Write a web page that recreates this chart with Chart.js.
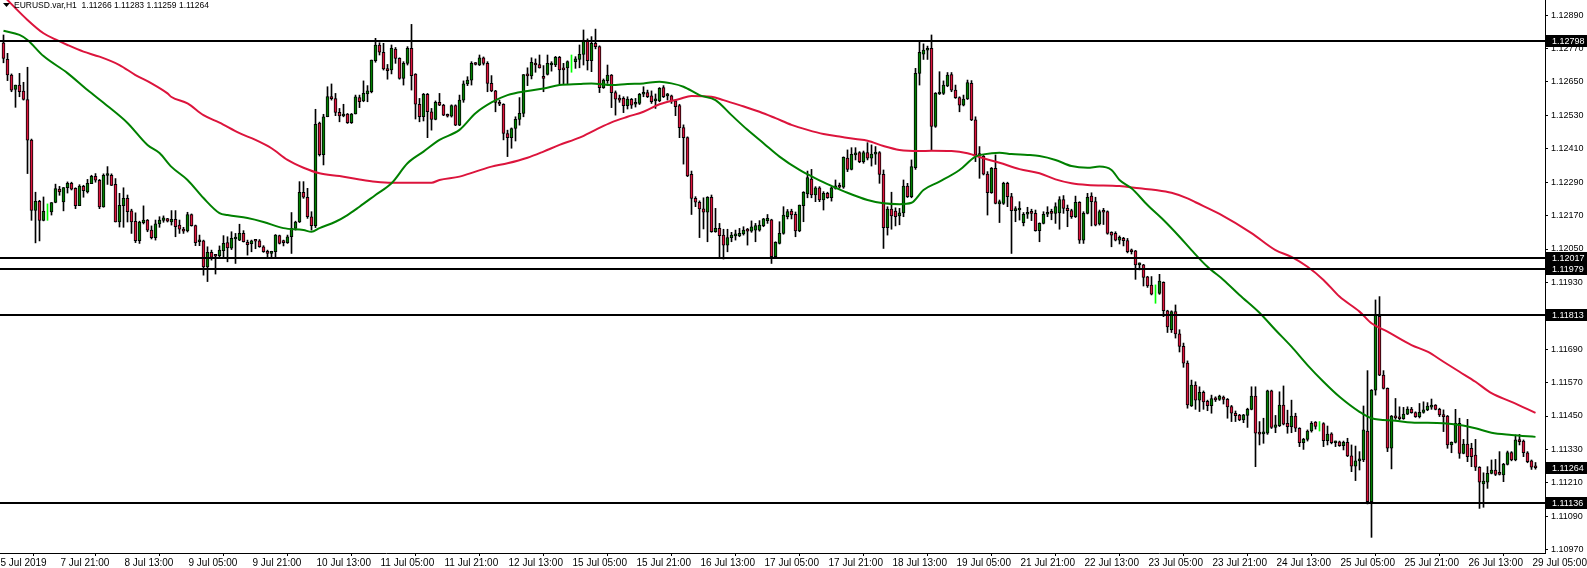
<!DOCTYPE html>
<html>
<head>
<meta charset="utf-8">
<script src="https://cdn.jsdelivr.net/npm/chart.js@4.4.0/dist/chart.umd.min.js"></script>
<style>
html, body { margin: 0; padding: 0; background: #fff; overflow: hidden; }
#wrap { position: relative; width: 1587px; height: 568px; }
</style>
</head>
<body>
<div id="wrap"><canvas id="chart" width="1587" height="568"></canvas></div>
<script>
// Header
const symbolTitle = 'EURUSD.var,H1  1.11266 1.11283 1.11259 1.11264';

// H1 candles, one per bar: [open, high, low, close]
const ohlc = [
  [1.12791,1.12819,1.12719,1.12735],[1.12731,1.12753,1.12655,1.12675],[1.12675,1.12679,1.12615,1.12621],[1.12623,1.12639,1.12559,1.12639],
  [1.12639,1.12681,1.12597,1.12615],[1.12617,1.12649,1.12585,1.12587],[1.12587,1.12703,1.12321,1.12441],[1.12441,1.12445,1.12153,1.12189],
  [1.12189,1.12254,1.12072,1.12221],[1.12221,1.12225,1.12079,1.12153],[1.12153,1.12237,1.12151,1.12185],[1.12183,1.12212,1.12153,1.12183],
  [1.12183,1.12217,1.12172,1.12217],[1.12217,1.12283,1.12216,1.12267],[1.12265,1.12275,1.12243,1.12255],[1.12219,1.12271,1.12187,1.12271],
  [1.12270,1.12291,1.12251,1.12286],[1.12286,1.12290,1.12262,1.12265],[1.12268,1.12270,1.12195,1.12206],[1.12206,1.12281,1.12206,1.12276],
  [1.12275,1.12279,1.12236,1.12260],[1.12255,1.12300,1.12251,1.12286],[1.12285,1.12315,1.12285,1.12311],[1.12311,1.12321,1.12290,1.12297],
  [1.12297,1.12300,1.12195,1.12201],[1.12201,1.12320,1.12200,1.12315],[1.12314,1.12346,1.12282,1.12317],[1.12315,1.12320,1.12278,1.12278],
  [1.12282,1.12303,1.12147,1.12147],[1.12147,1.12250,1.12129,1.12207],[1.12206,1.12270,1.12128,1.12232],[1.12232,1.12244,1.12147,1.12184],
  [1.12187,1.12193,1.12106,1.12147],[1.12149,1.12180,1.12073,1.12080],[1.12080,1.12150,1.12070,1.12147],[1.12145,1.12205,1.12140,1.12154],
  [1.12154,1.12156,1.12112,1.12118],[1.12118,1.12133,1.12086,1.12091],[1.12091,1.12154,1.12082,1.12140],[1.12140,1.12166,1.12128,1.12154],
  [1.12153,1.12169,1.12146,1.12162],[1.12159,1.12160,1.12147,1.12150],[1.12147,1.12188,1.12136,1.12157],[1.12157,1.12188,1.12094,1.12130],
  [1.12136,1.12154,1.12106,1.12121],[1.12118,1.12128,1.12106,1.12114],[1.12115,1.12182,1.12111,1.12174],[1.12174,1.12176,1.12132,1.12134],
  [1.12134,1.12136,1.12062,1.12073],[1.12076,1.12100,1.12062,1.12081],[1.12079,1.12082,1.11956,1.11986],[1.11986,1.12058,1.11933,1.12038],
  [1.12038,1.12046,1.12010,1.12020],[1.12027,1.12030,1.11960,1.12024],[1.12025,1.12061,1.12020,1.12046],[1.12044,1.12098,1.12016,1.12070],
  [1.12073,1.12094,1.12004,1.12054],[1.12053,1.12112,1.12048,1.12088],[1.12086,1.12106,1.11998,1.12090],[1.12082,1.12139,1.12080,1.12106],
  [1.12106,1.12116,1.12075,1.12076],[1.12074,1.12082,1.12028,1.12066],[1.12069,1.12082,1.12040,1.12079],[1.12080,1.12084,1.12051,1.12078],
  [1.12079,1.12084,1.12056,1.12058],[1.12058,1.12062,1.12038,1.12040],[1.12042,1.12046,1.12016,1.12034],[1.12034,1.12042,1.12020,1.12042],
  [1.12040,1.12102,1.12022,1.12100],[1.12098,1.12100,1.12068,1.12070],[1.12076,1.12082,1.12061,1.12073],[1.12073,1.12100,1.12070,1.12094],
  [1.12094,1.12181,1.12034,1.12124],[1.12124,1.12150,1.12118,1.12147],[1.12147,1.12292,1.12145,1.12254],[1.12254,1.12292,1.12232,1.12236],
  [1.12236,1.12268,1.12160,1.12166],[1.12166,1.12184,1.12118,1.12134],[1.12134,1.12552,1.12127,1.12498],[1.12502,1.12506,1.12384,1.12389],
  [1.12389,1.12534,1.12352,1.12525],[1.12525,1.12633,1.12525,1.12598],[1.12598,1.12643,1.12585,1.12590],[1.12590,1.12609,1.12529,1.12541],
  [1.12541,1.12555,1.12507,1.12528],[1.12528,1.12570,1.12525,1.12534],[1.12535,1.12537,1.12501,1.12504],[1.12504,1.12537,1.12501,1.12535],
  [1.12535,1.12603,1.12535,1.12597],[1.12594,1.12603,1.12558,1.12579],[1.12582,1.12654,1.12579,1.12609],[1.12607,1.12637,1.12579,1.12618],
  [1.12615,1.12729,1.12611,1.12729],[1.12727,1.12807,1.12721,1.12783],[1.12783,1.12791,1.12747,1.12757],[1.12757,1.12789,1.12693,1.12697],
  [1.12697,1.12713,1.12660,1.12691],[1.12693,1.12783,1.12679,1.12771],[1.12768,1.12774,1.12717,1.12735],[1.12735,1.12737,1.12660,1.12663],
  [1.12663,1.12723,1.12639,1.12717],[1.12717,1.12777,1.12711,1.12771],[1.12771,1.12857,1.12621,1.12673],[1.12678,1.12680,1.12517,1.12570],
  [1.12570,1.12591,1.12507,1.12525],[1.12525,1.12609,1.12510,1.12606],[1.12606,1.12609,1.12450,1.12543],[1.12543,1.12555,1.12477,1.12516],
  [1.12516,1.12582,1.12514,1.12577],[1.12577,1.12609,1.12565,1.12567],[1.12567,1.12570,1.12529,1.12531],[1.12531,1.12535,1.12524,1.12527],
  [1.12527,1.12568,1.12524,1.12565],[1.12565,1.12568,1.12493,1.12495],[1.12495,1.12603,1.12493,1.12585],[1.12585,1.12654,1.12577,1.12643],
  [1.12643,1.12669,1.12637,1.12657],[1.12657,1.12723,1.12639,1.12717],[1.12717,1.12720,1.12711,1.12713],[1.12711,1.12747,1.12709,1.12737],
  [1.12737,1.12740,1.12711,1.12717],[1.12717,1.12723,1.12615,1.12645],[1.12645,1.12673,1.12615,1.12618],[1.12618,1.12620,1.12543,1.12577],
  [1.12577,1.12585,1.12565,1.12570],[1.12570,1.12572,1.12442,1.12465],[1.12465,1.12477,1.12382,1.12450],[1.12450,1.12485,1.12412,1.12483],
  [1.12483,1.12525,1.12438,1.12516],[1.12516,1.12594,1.12495,1.12537],[1.12537,1.12677,1.12525,1.12677],[1.12677,1.12701,1.12637,1.12672],
  [1.12672,1.12737,1.12661,1.12721],[1.12717,1.12733,1.12685,1.12711],[1.12713,1.12747,1.12700,1.12701],[1.12668,1.12709,1.12615,1.12663],
  [1.12677,1.12747,1.12675,1.12717],[1.12711,1.12723,1.12689,1.12717],[1.12711,1.12742,1.12705,1.12739],[1.12739,1.12742,1.12642,1.12693],
  [1.12701,1.12717,1.12642,1.12693],[1.12701,1.12726,1.12642,1.12723],[1.12717,1.12747,1.12685,1.12717],[1.12723,1.12741,1.12699,1.12733],
  [1.12731,1.12783,1.12701,1.12749],[1.12749,1.12837,1.12711,1.12801],[1.12801,1.12805,1.12693,1.12727],[1.12727,1.12813,1.12687,1.12789],
  [1.12789,1.12840,1.12769,1.12777],[1.12777,1.12780,1.12612,1.12630],[1.12630,1.12661,1.12627,1.12657],[1.12655,1.12711,1.12645,1.12675],
  [1.12675,1.12677,1.12558,1.12612],[1.12612,1.12618,1.12531,1.12588],[1.12591,1.12603,1.12577,1.12585],[1.12591,1.12597,1.12540,1.12565],
  [1.12565,1.12597,1.12553,1.12589],[1.12588,1.12591,1.12555,1.12567],[1.12570,1.12591,1.12560,1.12574],[1.12573,1.12609,1.12569,1.12606],
  [1.12606,1.12633,1.12597,1.12612],[1.12612,1.12621,1.12594,1.12597],[1.12600,1.12618,1.12573,1.12579],[1.12582,1.12607,1.12555,1.12585],
  [1.12582,1.12630,1.12579,1.12627],[1.12630,1.12637,1.12594,1.12597],[1.12600,1.12609,1.12585,1.12603],[1.12600,1.12603,1.12573,1.12582],
  [1.12582,1.12585,1.12529,1.12561],[1.12565,1.12570,1.12450,1.12486],[1.12486,1.12496,1.12355,1.12450],[1.12450,1.12453,1.12310,1.12313],
  [1.12318,1.12330,1.12174,1.12232],[1.12232,1.12238,1.12202,1.12218],[1.12218,1.12223,1.12091,1.12194],[1.12194,1.12234,1.12122,1.12182],
  [1.12182,1.12238,1.12076,1.12236],[1.12236,1.12244,1.12110,1.12112],[1.12112,1.12196,1.12110,1.12124],[1.12124,1.12142,1.12022,1.12098],
  [1.12100,1.12121,1.12014,1.12064],[1.12064,1.12121,1.12040,1.12091],[1.12091,1.12110,1.12076,1.12100],[1.12097,1.12118,1.12082,1.12102],
  [1.12097,1.12124,1.12094,1.12106],[1.12104,1.12130,1.12100,1.12118],[1.12118,1.12124,1.12064,1.12114],[1.12114,1.12151,1.12110,1.12130],
  [1.12118,1.12142,1.12076,1.12134],[1.12118,1.12152,1.12114,1.12136],[1.12134,1.12160,1.12130,1.12158],[1.12152,1.12174,1.12142,1.12160],
  [1.12155,1.12157,1.11998,1.12022],[1.12022,1.12076,1.12020,1.12074],[1.12070,1.12148,1.12068,1.12106],[1.12106,1.12202,1.12103,1.12172],
  [1.12166,1.12192,1.12158,1.12184],[1.12186,1.12193,1.12158,1.12172],[1.12175,1.12183,1.12094,1.12115],[1.12115,1.12208,1.12112,1.12208],
  [1.12206,1.12256,1.12148,1.12254],[1.12248,1.12330,1.12234,1.12307],[1.12301,1.12336,1.12234,1.12244],[1.12244,1.12274,1.12220,1.12270],
  [1.12270,1.12274,1.12220,1.12226],[1.12226,1.12256,1.12190,1.12250],[1.12250,1.12254,1.12232,1.12234],[1.12234,1.12274,1.12222,1.12270],
  [1.12268,1.12298,1.12265,1.12277],[1.12276,1.12287,1.12268,1.12272],[1.12272,1.12381,1.12268,1.12379],[1.12377,1.12406,1.12328,1.12336],
  [1.12336,1.12414,1.12334,1.12390],[1.12388,1.12414,1.12370,1.12394],[1.12396,1.12400,1.12360,1.12364],[1.12364,1.12402,1.12358,1.12396],
  [1.12396,1.12432,1.12370,1.12376],[1.12376,1.12424,1.12348,1.12391],[1.12391,1.12418,1.12354,1.12396],[1.12396,1.12400,1.12286,1.12318],
  [1.12318,1.12334,1.12052,1.12127],[1.12127,1.12202,1.12100,1.12193],[1.12193,1.12254,1.12121,1.12169],[1.12186,1.12198,1.12133,1.12166],
  [1.12169,1.12196,1.12137,1.12180],[1.12180,1.12298,1.12166,1.12276],[1.12276,1.12286,1.12235,1.12238],[1.12238,1.12370,1.12234,1.12346],
  [1.12342,1.12699,1.12336,1.12681],[1.12681,1.12799,1.12639,1.12757],[1.12750,1.12787,1.12731,1.12765],[1.12764,1.12779,1.12731,1.12771],
  [1.12771,1.12819,1.12406,1.12490],[1.12490,1.12612,1.12487,1.12609],[1.12607,1.12687,1.12605,1.12612],[1.12609,1.12654,1.12605,1.12639],
  [1.12636,1.12684,1.12633,1.12675],[1.12677,1.12684,1.12615,1.12621],[1.12621,1.12639,1.12591,1.12594],[1.12594,1.12597,1.12543,1.12567],
  [1.12567,1.12603,1.12564,1.12589],[1.12589,1.12657,1.12587,1.12648],[1.12645,1.12655,1.12511,1.12514],[1.12514,1.12525,1.12364,1.12388],
  [1.12390,1.12418,1.12304,1.12386],[1.12384,1.12386,1.12316,1.12319],[1.12319,1.12328,1.12172,1.12252],[1.12252,1.12343,1.12250,1.12340],
  [1.12340,1.12388,1.12212,1.12214],[1.12212,1.12226,1.12145,1.12220],[1.12214,1.12290,1.12210,1.12286],[1.12286,1.12290,1.12202,1.12238],
  [1.12238,1.12250,1.12034,1.12188],[1.12188,1.12202,1.12148,1.12192],[1.12190,1.12220,1.12154,1.12193],[1.12145,1.12181,1.12133,1.12175],
  [1.12175,1.12200,1.12160,1.12181],[1.12181,1.12193,1.12152,1.12178],[1.12178,1.12190,1.12114,1.12116],[1.12116,1.12144,1.12076,1.12142],
  [1.12142,1.12184,1.12140,1.12175],[1.12175,1.12202,1.12166,1.12180],[1.12180,1.12193,1.12155,1.12178],[1.12178,1.12216,1.12142,1.12202],
  [1.12180,1.12238,1.12121,1.12228],[1.12228,1.12242,1.12178,1.12196],[1.12196,1.12208,1.12130,1.12188],[1.12188,1.12193,1.12160,1.12166],
  [1.12166,1.12240,1.12163,1.12218],[1.12218,1.12220,1.12070,1.12082],[1.12082,1.12184,1.12070,1.12178],[1.12178,1.12250,1.12176,1.12236],
  [1.12240,1.12252,1.12133,1.12220],[1.12220,1.12236,1.12133,1.12136],[1.12140,1.12190,1.12136,1.12184],[1.12184,1.12196,1.12138,1.12182],
  [1.12184,1.12187,1.12103,1.12106],[1.12110,1.12112,1.12058,1.12100],[1.12106,1.12112,1.12079,1.12082],[1.12082,1.12097,1.12068,1.12092],
  [1.12088,1.12092,1.12061,1.12080],[1.12080,1.12088,1.12036,1.12040],[1.12043,1.12050,1.12032,1.12040],[1.12043,1.12045,1.11941,1.11993],
  [1.11993,1.12000,1.11975,1.11995],[1.11993,1.11995,1.11917,1.11948],[1.11950,1.11952,1.11912,1.11917],[1.11920,1.11951,1.11885,1.11888],
  [1.11890,1.11921,1.11855,1.11890],[1.11890,1.11959,1.11887,1.11935],[1.11930,1.11932,1.11807,1.11828],[1.11828,1.11830,1.11750,1.11770],
  [1.11760,1.11828,1.11750,1.11825],[1.11825,1.11849,1.11730,1.11745],[1.11745,1.11760,1.11680,1.11700],[1.11700,1.11712,1.11625,1.11640],
  [1.11640,1.11648,1.11478,1.11490],[1.11486,1.11579,1.11484,1.11561],[1.11561,1.11573,1.11474,1.11507],[1.11507,1.11555,1.11466,1.11535],
  [1.11535,1.11540,1.11474,1.11501],[1.11503,1.11507,1.11469,1.11487],[1.11487,1.11525,1.11460,1.11513],[1.11513,1.11519,1.11502,1.11508],
  [1.11510,1.11525,1.11506,1.11522],[1.11518,1.11522,1.11493,1.11510],[1.11510,1.11513,1.11442,1.11483],[1.11484,1.11488,1.11430,1.11460],
  [1.11460,1.11468,1.11430,1.11451],[1.11453,1.11456,1.11433,1.11436],[1.11436,1.11456,1.11426,1.11454],[1.11452,1.11478,1.11409,1.11474],
  [1.11474,1.11555,1.11472,1.11522],[1.11522,1.11555,1.11268,1.11388],[1.11388,1.11430,1.11346,1.11385],[1.11386,1.11442,1.11352,1.11390],
  [1.11388,1.11543,1.11384,1.11540],[1.11540,1.11543,1.11405,1.11409],[1.11409,1.11452,1.11390,1.11418],[1.11415,1.11537,1.11412,1.11489],
  [1.11489,1.11558,1.11418,1.11421],[1.11424,1.11471,1.11388,1.11412],[1.11412,1.11507,1.11390,1.11450],[1.11450,1.11460,1.11394,1.11406],
  [1.11406,1.11408,1.11340,1.11354],[1.11354,1.11370,1.11330,1.11366],[1.11366,1.11400,1.11360,1.11396],[1.11396,1.11430,1.11392,1.11424],
  [1.11428,1.11430,1.11403,1.11413],[1.11418,1.11430,1.11396,1.11418],[1.11423,1.11426,1.11340,1.11361],[1.11361,1.11414,1.11346,1.11385],
  [1.11386,1.11390,1.11350,1.11354],[1.11354,1.11360,1.11340,1.11357],[1.11357,1.11360,1.11341,1.11343],[1.11343,1.11360,1.11328,1.11355],
  [1.11355,1.11370,1.11304,1.11307],[1.11307,1.11346,1.11250,1.11270],[1.11270,1.11342,1.11218,1.11289],[1.11289,1.11322,1.11256,1.11292],
  [1.11292,1.11486,1.11286,1.11400],[1.11396,1.11613,1.11134,1.11142],[1.11142,1.11545,1.11014,1.11543],[1.11543,1.11867,1.11525,1.11815],
  [1.11808,1.11879,1.11595,1.11597],[1.11597,1.11613,1.11547,1.11549],[1.11549,1.11551,1.11322,1.11334],[1.11334,1.11452,1.11260,1.11450],
  [1.11450,1.11513,1.11438,1.11443],[1.11443,1.11483,1.11436,1.11440],[1.11440,1.11481,1.11438,1.11457],[1.11457,1.11483,1.11455,1.11475],
  [1.11475,1.11481,1.11460,1.11462],[1.11462,1.11465,1.11445,1.11448],[1.11448,1.11495,1.11443,1.11463],[1.11463,1.11501,1.11460,1.11472],
  [1.11472,1.11498,1.11469,1.11486],[1.11482,1.11511,1.11474,1.11489],[1.11489,1.11491,1.11472,1.11474],[1.11474,1.11478,1.11448,1.11454],
  [1.11454,1.11472,1.11394,1.11448],[1.11450,1.11452,1.11334,1.11346],[1.11346,1.11357,1.11318,1.11355],[1.11355,1.11474,1.11353,1.11424],
  [1.11424,1.11442,1.11298,1.11316],[1.11316,1.11366,1.11314,1.11349],[1.11349,1.11438,1.11286,1.11304],[1.11334,1.11352,1.11268,1.11304],
  [1.11310,1.11366,1.11254,1.11266],[1.11266,1.11268,1.11118,1.11212],[1.11206,1.11246,1.11122,1.11216],[1.11212,1.11268,1.11190,1.11244],
  [1.11244,1.11292,1.11242,1.11256],[1.11256,1.11294,1.11236,1.11240],[1.11246,1.11322,1.11238,1.11240],[1.11238,1.11280,1.11214,1.11276],
  [1.11276,1.11324,1.11274,1.11319],[1.11319,1.11322,1.11289,1.11292],[1.11292,1.11382,1.11289,1.11364],[1.11364,1.11384,1.11346,1.11358],
  [1.11360,1.11364,1.11304,1.11318],[1.11318,1.11322,1.11282,1.11286],[1.11289,1.11292,1.11258,1.11266],[1.11266,1.11283,1.11259,1.11264]
];

// moving averages: [bar, price]
const maGreen = [
  [0,1.12834],[4,1.12819],[6,1.12801],[10,1.12743],[16,1.12682],[21,1.12621],[26,1.12564],[31,1.12503],[36,1.12424],[39,1.12395],
  [42,1.12345],[46,1.12298],[50,1.12233],[54,1.12179],[56,1.12172],[61,1.12161],[65,1.12147],[70,1.12125],[75,1.12118],[77,1.12112],
  [79,1.12125],[83,1.12148],[86,1.12172],[89,1.12202],[93,1.12244],[97,1.12286],[101,1.12358],[105,1.12400],[109,1.12442],[114,1.12478],
  [118,1.12538],[122,1.12577],[126,1.12603],[131,1.12618],[135,1.12627],[139,1.12639],[144,1.12643],[147,1.12645],[152,1.12639],[156,1.12643],
  [160,1.12645],[164,1.12651],[167,1.12645],[170,1.12633],[174,1.12603],[178,1.12585],[182,1.12531],[186,1.12478],[190,1.12430],[194,1.12382],
  [199,1.12334],[203,1.12304],[207,1.12277],[211,1.12252],[216,1.12226],[220,1.12214],[224,1.12211],[227,1.12216],[230,1.12262],[234,1.12292],
  [239,1.12334],[243,1.12382],[245,1.12390],[249,1.12396],[252,1.12391],[256,1.12388],[259,1.12384],[263,1.12370],[267,1.12348],[271,1.12342],
  [274,1.12346],[277,1.12334],[279,1.12298],[282,1.12268],[286,1.12208],[290,1.12154],[294,1.12094],[297,1.12046],[301,1.11986],[305,1.11939],
  [309,1.11885],[314,1.11821],[318,1.11759],[322,1.11699],[326,1.11633],[330,1.11573],[334,1.11519],[339,1.11465],[342,1.11442],[348,1.11433],
  [352,1.11427],[360,1.11424],[364,1.11418],[368,1.11406],[372,1.11390],[377,1.11382],[383,1.11375]
];
const maRed = [
  [0,1.12959],[6,1.12873],[10,1.12825],[13,1.12803],[16,1.12783],[20,1.12759],[24,1.12741],[29,1.12711],[33,1.12675],[37,1.12645],
  [41,1.12609],[42,1.12596],[46,1.12573],[50,1.12531],[54,1.12504],[59,1.12466],[63,1.12442],[67,1.12412],[71,1.12370],[75,1.12342],
  [79,1.12322],[84,1.12312],[89,1.12300],[93,1.12292],[97,1.12288],[107,1.12288],[109,1.12298],[114,1.12310],[118,1.12328],[122,1.12346],
  [126,1.12358],[131,1.12378],[135,1.12400],[139,1.12424],[144,1.12450],[148,1.12478],[152,1.12505],[156,1.12525],[160,1.12543],[164,1.12570],
  [169,1.12589],[172,1.12600],[177,1.12597],[180,1.12585],[184,1.12567],[189,1.12543],[193,1.12520],[197,1.12496],[201,1.12478],[205,1.12463],
  [209,1.12454],[213,1.12445],[216,1.12439],[220,1.12420],[224,1.12406],[229,1.12402],[232,1.12403],[237,1.12402],[241,1.12394],[245,1.12376],
  [249,1.12360],[254,1.12337],[259,1.12322],[263,1.12300],[267,1.12286],[271,1.12280],[279,1.12276],[284,1.12268],[288,1.12262],[292,1.12252],
  [296,1.12232],[298,1.12218],[304,1.12176],[312,1.12107],[318,1.12046],[322,1.12022],[326,1.11986],[330,1.11939],[334,1.11879],[339,1.11825],
  [342,1.11783],[346,1.11753],[352,1.11705],[356,1.11681],[360,1.11645],[364,1.11609],[368,1.11573],[372,1.11532],[377,1.11501],[383,1.11461]
];

// horizontal levels, last bid
const levels = [1.12798, 1.12017, 1.11979, 1.11813, 1.11136];
const bid = 1.11264;

// axes
const priceTicks = [1.12890,1.12770,1.12650,1.12530,1.12410,1.12290,1.12170,1.12050,1.11930,1.11810,1.11690,1.11570,1.11450,1.11330,1.11210,1.11090,1.10970];
const tickBars = [0,15,31,47,63,79,95,111,127,143,159,175,191,207,223,239,255,271,287,303,319,335,351,367,383];
const tickLabels = ['5 Jul 2019','7 Jul 21:00','8 Jul 13:00','9 Jul 05:00','9 Jul 21:00','10 Jul 13:00','11 Jul 05:00','11 Jul 21:00',
  '12 Jul 13:00','15 Jul 05:00','15 Jul 21:00','16 Jul 13:00','17 Jul 05:00','17 Jul 21:00','18 Jul 13:00','19 Jul 05:00',
  '21 Jul 21:00','22 Jul 13:00','23 Jul 05:00','23 Jul 21:00','24 Jul 13:00','25 Jul 05:00','25 Jul 21:00','26 Jul 13:00','29 Jul 05:00'];

const BULL = '#008000';
const BEAR = '#dc143c';
const DOJI = '#00ff00';
const FONT = 'Liberation Sans, Arial, sans-serif';

const bodies = ohlc.map((c, i) => ({ x: i, y: c[0] === c[3] ? null : [c[0], c[3]] }));
const wicks = ohlc.map((c, i) => ({ x: i, y: [c[2], c[1]] }));
const bodyColors = ohlc.map(c => c[3] > c[0] ? BULL : BEAR);
const wickColors = ohlc.map(c => c[0] === c[3] ? DOJI : '#000');

// levels, price boxes and header drawn on top
const overlay = {
    id: 'overlay',
    afterDatasetsDraw(chart) {
        const { ctx, chartArea } = chart;
        const y = chart.scales.y;
        ctx.save();
        ctx.fillStyle = '#000';
        levels.forEach(lv => {
            const py = Math.round(y.getPixelForValue(lv));
            ctx.fillRect(chartArea.left, py - 1, chartArea.right - chartArea.left, 2);
        });
        ctx.restore();
    },
    afterDraw(chart) {
        const { ctx, chartArea } = chart;
        const y = chart.scales.y;
        ctx.save();
        ctx.font = '9px ' + FONT;
        ctx.textBaseline = 'middle';
        levels.concat([bid]).forEach(v => {
            const py = Math.round(y.getPixelForValue(v));
            ctx.fillStyle = '#000';
            ctx.fillRect(chartArea.right + 1, py - 6, chart.width - chartArea.right, 12);
            ctx.fillStyle = '#fff';
            ctx.fillText(v.toFixed(5), chartArea.right + 7, py + 0.5);
        });
        // header
        ctx.fillStyle = '#000';
        ctx.beginPath();
        ctx.moveTo(3, 3); ctx.lineTo(10, 3); ctx.lineTo(6.5, 7); ctx.closePath();
        ctx.fill();
        ctx.font = '8.5px ' + FONT;
        ctx.fillText(symbolTitle, 14, 6);
        ctx.restore();
    }
};

new Chart(document.getElementById('chart'), {
    type: 'bar',
    data: {
        datasets: [
            { type: 'line', data: maGreen.map(p => ({ x: p[0], y: p[1] })), borderColor: BULL, borderWidth: 2,
              pointRadius: 0, cubicInterpolationMode: 'monotone', order: 1 },
            { type: 'line', data: maRed.map(p => ({ x: p[0], y: p[1] })), borderColor: BEAR, borderWidth: 2,
              pointRadius: 0, cubicInterpolationMode: 'monotone', order: 1 },
            { data: bodies, backgroundColor: bodyColors, borderColor: '#000', borderWidth: 1, borderSkipped: false,
              barThickness: 3, minBarLength: 2, grouped: false, order: 2 },
            { data: wicks, backgroundColor: wickColors, borderWidth: 0, barThickness: 1, grouped: false, order: 3 }
        ]
    },
    options: {
        responsive: false,
        animation: false,
        devicePixelRatio: 1,
        events: [],
        layout: { padding: 0 },
        plugins: { legend: { display: false }, tooltip: { enabled: false } },
        scales: {
            x: {
                type: 'linear',
                offset: false,
                min: -0.875,
                max: 385.375,
                afterBuildTicks: s => { s.ticks = tickBars.map(v => ({ value: v })); },
                afterFit: s => { s.height = 15; s.paddingLeft = 0; s.paddingRight = 0; },
                ticks: {
                    autoSkip: false, maxRotation: 0, align: 'start', padding: 1, labelOffset: -3,
                    color: '#000', font: { family: FONT, size: 10 },
                    callback: v => tickLabels[tickBars.indexOf(v)]
                },
                grid: { drawOnChartArea: false, drawTicks: true, tickLength: 3, color: '#000' },
                border: { color: '#000', width: 1 }
            },
            y: {
                type: 'linear',
                position: 'right',
                min: 1.109578,
                max: 1.129446,
                afterBuildTicks: s => { s.ticks = priceTicks.map(v => ({ value: v })); },
                afterFit: s => { s.width = 42; s.paddingTop = 0; s.paddingBottom = 0; },
                ticks: { color: '#000', padding: 3, font: { family: FONT, size: 9 }, callback: v => v.toFixed(5) },
                grid: { drawOnChartArea: false, drawTicks: true, tickLength: 3, color: '#000' },
                border: { color: '#000', width: 1 }
            }
        }
    },
    plugins: [overlay]
});
</script>
</body>
</html>
